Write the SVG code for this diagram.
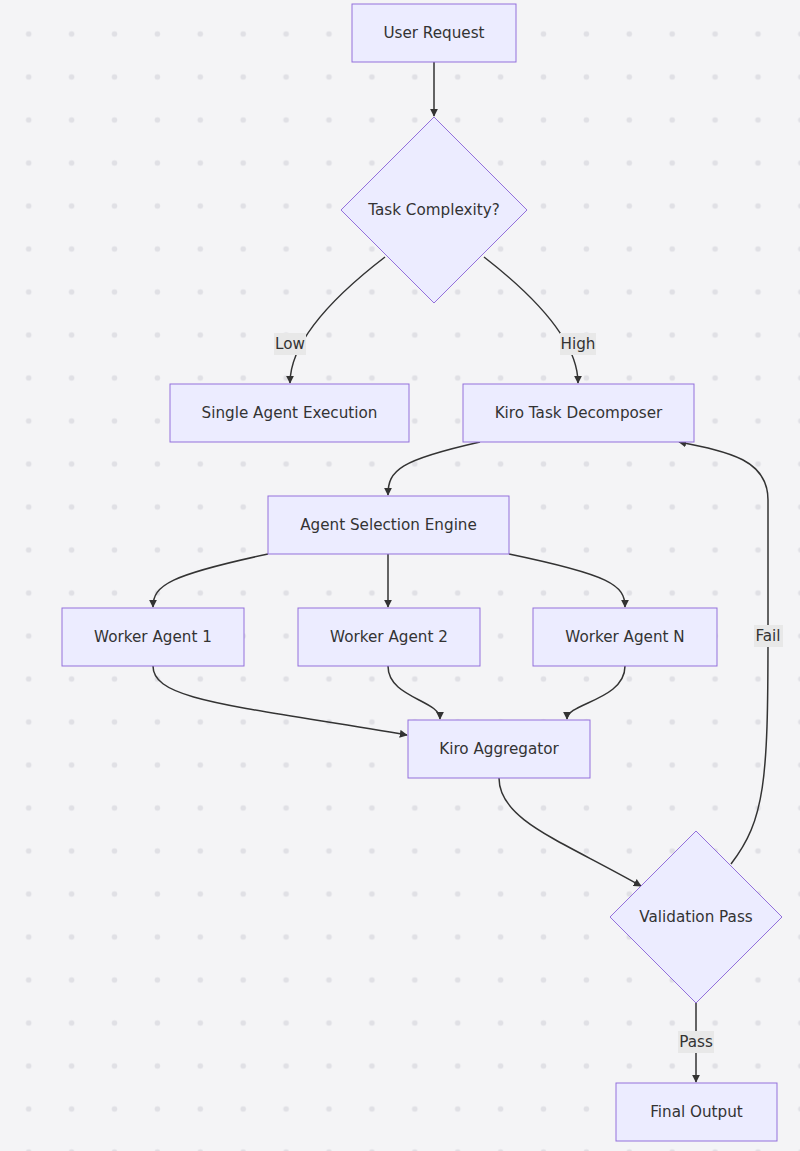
<svg xmlns="http://www.w3.org/2000/svg" width="800" height="1151" viewBox="0 0 800 1151">
<defs>
<pattern id="dots" x="0" y="0" width="42.9" height="43" patternUnits="userSpaceOnUse" patternTransform="translate(7.3,12.5)">
<circle cx="21.4" cy="21.5" r="2.8" fill="#e0e0e5"/>
</pattern>
<marker id="arr" viewBox="0 0 10 10" refX="9" refY="5" markerWidth="8" markerHeight="8" orient="auto" markerUnits="userSpaceOnUse"><path d="M0,0 L10,5 L0,10 z" fill="#333"/></marker>
<style>
.n{fill:#ECECFF;stroke:#9370DB;stroke-width:1}
.t{font-family:"DejaVu Sans","Liberation Sans",sans-serif;font-size:15.2px;fill:#333;text-anchor:middle;dominant-baseline:central}
.e{fill:none;stroke:#333;stroke-width:1.5;marker-end:url(#arr)}
.lb{fill:#e8e8e8}
</style>
</defs>
<rect width="800" height="1151" fill="#f4f4f6"/>
<rect width="800" height="1151" fill="url(#dots)"/>
<g id="edges">
<path class="e" d="M434,62 L434,116"/>
<path class="e" d="M385,257 Q290,330 290,383"/>
<path class="e" d="M484,257 Q578,330 578,383"/>
<path class="e" d="M480,442 C400,460 388,470 388,495"/>
<path class="e" d="M268,554 C170,575 153,585 153,607"/>
<path class="e" d="M388,554 L388,607"/>
<path class="e" d="M509,554 C610,575 625,585 625,607"/>
<path class="e" d="M153,666 C153,700 230,705 407,735"/>
<path class="e" d="M388,666 C388,698 440,700 440,719"/>
<path class="e" d="M625,666 C625,700 567,703 567,719"/>
<path class="e" d="M499,778 C499,820 560,840 641,886"/>
<path class="e" d="M731,864 C765,820 768,780 768,636 L768,500 C768,460 730,452 679,442"/>
<path class="e" d="M696,1003 L696,1082"/>
<rect class="lb" x="274" y="333" width="32" height="22"/><text class="t" x="290" y="344">Low</text>
<rect class="lb" x="560" y="333" width="36" height="22"/><text class="t" x="578" y="344">High</text>
<rect class="lb" x="754" y="625" width="29" height="22"/><text class="t" x="768" y="636">Fail</text>
<rect class="lb" x="678" y="1031" width="36" height="22"/><text class="t" x="696" y="1042">Pass</text>
</g>
<g id="user"><rect class="n" x="352" y="4" width="164" height="58"/><text class="t" x="434" y="33">User Request</text></g>
<g id="complexity"><polygon class="n" points="434,117 527,210 434,303 341,210"/><text class="t" x="434" y="210">Task Complexity?</text></g>
<g id="single"><rect class="n" x="170" y="384" width="239" height="58"/><text class="t" x="289.5" y="413">Single Agent Execution</text></g>
<g id="decomposer"><rect class="n" x="463" y="384" width="231" height="58"/><text class="t" x="578.5" y="413">Kiro Task Decomposer</text></g>
<g id="selection"><rect class="n" x="268" y="496" width="241" height="58"/><text class="t" x="388.5" y="525">Agent Selection Engine</text></g>
<g id="w1"><rect class="n" x="62" y="608" width="182" height="58"/><text class="t" x="153" y="637">Worker Agent 1</text></g>
<g id="w2"><rect class="n" x="298" y="608" width="182" height="58"/><text class="t" x="389" y="637">Worker Agent 2</text></g>
<g id="wn"><rect class="n" x="533" y="608" width="184" height="58"/><text class="t" x="625" y="637">Worker Agent N</text></g>
<g id="aggregator"><rect class="n" x="408" y="720" width="182" height="58"/><text class="t" x="499" y="749">Kiro Aggregator</text></g>
<g id="validation"><polygon class="n" points="696,831 782,917 696,1003 610,917"/><text class="t" x="696" y="917">Validation Pass</text></g>
<g id="final"><rect class="n" x="616" y="1083" width="161" height="58"/><text class="t" x="696.5" y="1112">Final Output</text></g>
</svg>
